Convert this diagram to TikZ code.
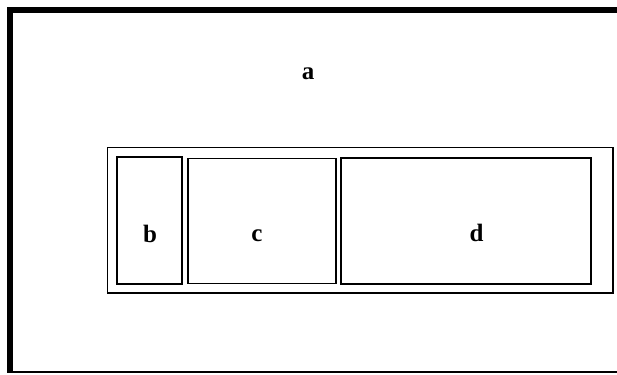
\documentclass[tikz,border=0pt]{standalone}
\usepackage{fontspec}
\setmainfont{Liberation Serif}
\begin{document}
\begin{tikzpicture}[x=1pt,y=-1pt,
  box/.style={draw=black,line width=1.8pt,inner sep=0pt,outer sep=0pt,anchor=north west},
  lbl/.style={font=\fontsize{25}{30}\selectfont\bfseries,anchor=base,inner sep=0pt}]
\useasboundingbox (0,0) rectangle (617,374);
\clip (0,0) rectangle (617,374);
\fill[white] (0,0) rectangle (617,374);
% outer frame a
\coordinate (fTL) at (10,10);
\coordinate (fBL) at (10,372);
\coordinate (fTR) at (625,10);
\draw[line width=6pt] (fBL) -- (fTL) -- (fTR);
\coordinate (bL) at (7,372);
\coordinate (bR) at (620,372);
\draw[line width=2pt] (bL) -- (bR);
\node[lbl] (la) at (308,80) {a};
% container
\node[box,line width=1.5pt,minimum width=505.5pt,minimum height=145.5pt] (cont) at (107.3,147.3) {};
\node[box,minimum width=64.5pt,minimum height=127pt] (b) at (117.2,157.2) {};
\node[box,minimum width=148pt,minimum height=125pt] (c) at (188.2,158.5) {};
\node[box,minimum width=249.5pt,minimum height=126pt] (d) at (341.2,158.2) {};
\node[lbl] (lb) at (150,242) {b};
\node[lbl] (lc) at (257,241.5) {c};
\node[lbl] (ld) at (476.5,241.5) {d};
\end{tikzpicture}
\end{document}
